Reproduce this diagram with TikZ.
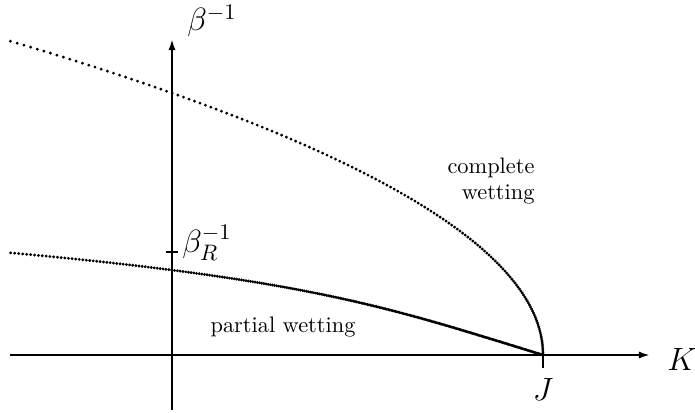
\documentclass[tikz,border=0pt]{standalone}
\usetikzlibrary{arrows.meta}
\begin{document}
\begin{tikzpicture}[x=0.447pt,y=-0.447pt,
  axis/.style={line width=0.9pt,-{Latex[length=5pt,width=3.2pt]}},
  tickline/.style={line width=0.9pt},
  dotcurve/.style={only marks, mark=*, mark size=0.42pt, mark options={draw=none,fill=black}},
  lbl/.style={font=\Large, inner sep=0pt},
  txt/.style={font=\normalsize, inner sep=0pt}]
\useasboundingbox (0,0) rectangle (695,412);
% axes
\coordinate (xs) at (10,355);
\coordinate (xe) at (650,355);
\coordinate (ys) at (172,410);
\coordinate (ye) at (172,39);
\draw[axis] (xs) -- (xe);
\draw[axis] (ys) -- (ye);
% ticks
\coordinate (J0) at (543,355);
\coordinate (Jt) at (543,368);
\draw[tickline] (J0) -- (Jt);
\coordinate (bRl) at (166,252);
\coordinate (bRr) at (178,252);
\draw[tickline] (bRl) -- (bRr);
% curves
\draw[dotcurve] plot[domain=0:3.14, samples=158] ({543-54.07*\x*\x},{355-100*\x});
\draw[dotcurve] plot[domain=0:1.023, samples=280] ({543-323.3*\x-185.4*\x*\x*\x*\x},{355-100*\x});
% labels
\node[lbl] (beta) at (212,21) {$\beta^{-1}$};
\node[lbl] (betaR) at (207,243) {$\beta_R^{-1}$};
\node[lbl] (K) at (682,359) {$K$};
\node[lbl] (J) at (543,389) {$J$};
\node[txt, align=right] (cw) at (491,181) {complete\\wetting};
\node[txt] (pw) at (283,327) {partial wetting};
\end{tikzpicture}
\end{document}
